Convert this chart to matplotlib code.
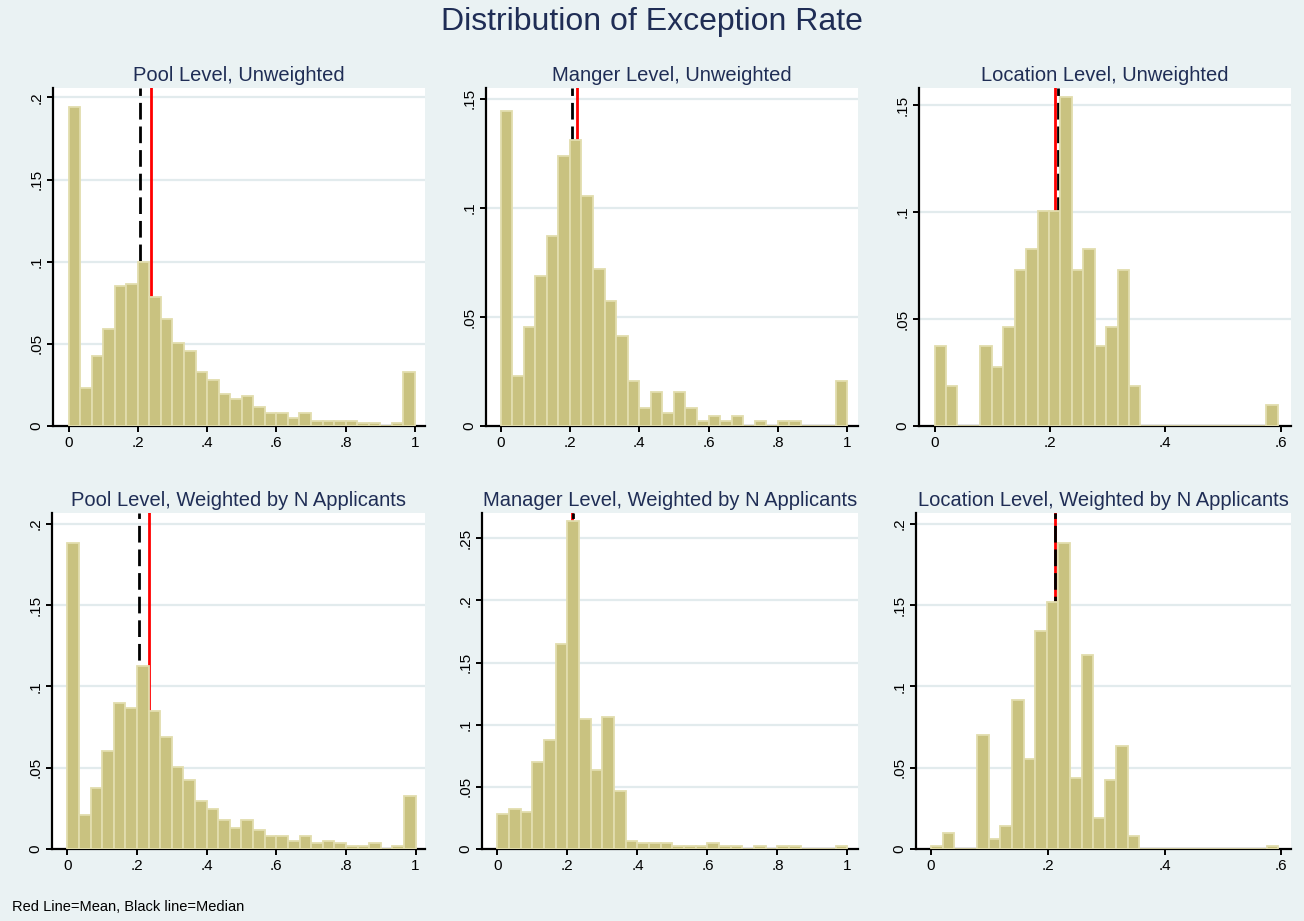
import numpy as np
import matplotlib.pyplot as plt

plt.rcParams['font.family'] = ['Liberation Sans', 'DejaVu Sans']

# fraction of observations in each of 30 equal-width bins
pool_unw = [0.194, 0.0229, 0.0424, 0.0588, 0.0849, 0.0867, 0.0996, 0.0784, 0.0653, 0.0504,
            0.0459, 0.0327, 0.028, 0.0196, 0.0163, 0.018, 0.0114, 0.0082, 0.0082, 0.0047,
            0.0082, 0.0033, 0.0033, 0.0033, 0.0033, 0.0016, 0.0016, 0.0, 0.0016, 0.0327]
mgr_unw = [0.1445, 0.023, 0.0452, 0.0686, 0.087, 0.1238, 0.131, 0.1054, 0.072, 0.0575,
           0.0414, 0.0206, 0.0083, 0.0156, 0.006, 0.0156, 0.0083, 0.0025, 0.0047, 0.0025,
           0.0047, 0.0, 0.0025, 0.0, 0.0025, 0.0025, 0.0, 0.0, 0.0, 0.0206]
loc_unw = [0.0375, 0.0187, 0.0, 0.0, 0.0375, 0.0275, 0.0463, 0.0727, 0.0827, 0.1003,
           0.1003, 0.154, 0.0727, 0.0827, 0.0375, 0.0463, 0.0727, 0.0187, 0.0, 0.0,
           0.0, 0.0, 0.0, 0.0, 0.0, 0.0, 0.0, 0.0, 0.0, 0.0097]
pool_w = [0.188, 0.0212, 0.0376, 0.0604, 0.0898, 0.0865, 0.1127, 0.0847, 0.0686, 0.0506,
          0.0424, 0.0294, 0.0245, 0.018, 0.0131, 0.018, 0.0114, 0.0082, 0.0082, 0.0049,
          0.0082, 0.0037, 0.0049, 0.0037, 0.0018, 0.0018, 0.0037, 0.0, 0.0018, 0.0327]
mgr_w = [0.028, 0.032, 0.030, 0.070, 0.0875, 0.1647, 0.2637, 0.1047, 0.0638, 0.1065,
         0.0466, 0.0063, 0.0048, 0.0048, 0.0048, 0.0021, 0.0021, 0.0021, 0.0048, 0.0021,
         0.0021, 0.0, 0.0021, 0.0, 0.0021, 0.0021, 0.0, 0.0, 0.0, 0.0021]
loc_w = [0.0016, 0.0096, 0.0, 0.0, 0.070, 0.0063, 0.0143, 0.0914, 0.0554, 0.1338,
         0.1518, 0.1881, 0.0437, 0.1192, 0.0192, 0.0423, 0.0636, 0.008, 0.0, 0.0,
         0.0, 0.0, 0.0, 0.0, 0.0, 0.0, 0.0, 0.0, 0.0, 0.0016]

titles = ["Pool Level, Unweighted", "Manger Level, Unweighted", "Location Level, Unweighted",
          "Pool Level, Weighted by N Applicants", "Manager Level, Weighted by N Applicants",
          "Location Level, Weighted by N Applicants"]
heights = [pool_unw, mgr_unw, loc_unw, pool_w, mgr_w, loc_w]
x_max = [1.0, 1.0, 0.595, 1.0, 1.0, 0.595]
means = [0.2365, 0.221, 0.2096, 0.2356, 0.2145, 0.2126]
medians = [0.207, 0.205, 0.2142, 0.206, 0.2165, 0.2126]

xt_full = [0, 0.2, 0.4, 0.6, 0.8, 1]
xl_full = ["0", ".2", ".4", ".6", ".8", "1"]
xt_loc = [0, 0.2, 0.4, 0.6]
xl_loc = ["0", ".2", ".4", ".6"]
yt = [[0, .05, .1, .15, .2], [0, .05, .1, .15], [0, .05, .1, .15],
      [0, .05, .1, .15, .2], [0, .05, .1, .15, .2, .25], [0, .05, .1, .15, .2]]
ylab = {0: "0", .05: ".05", .1: ".1", .15: ".15", .2: ".2", .25: ".25"}

# axes boxes in pixels: left, top, right, bottom
W, H = 1304, 921
boxes = [(53, 88, 425, 426), (486, 88, 858, 426), (919, 88, 1291, 426),
         (52, 513, 425, 849), (482, 513, 858, 849), (916, 513, 1291, 849)]
xlims = [(-0.045, 1.029), (-0.042, 1.031), (-0.027, 0.618),
         (-0.044, 1.027), (-0.044, 1.03), (-0.0257, 0.6166)]
ylims = [0.2057, 0.155, 0.158, 0.2066, 0.2704, 0.2066]

bg = '#EAF2F3'
grid_c = '#E2EBED'
bar_c = '#C9C280'
bar_edge = '#E2DDAE'
navy = '#1F2D55'

fig = plt.figure(figsize=(W / 100, H / 100), dpi=100, facecolor=bg)
fig.text(0.5, 1 - 22 / H, "Distribution of Exception Rate", ha='center', va='center',
         fontsize=23, color=navy)

for i in range(6):
    l, t, r, b = boxes[i]
    ax = fig.add_axes([l / W, 1 - b / H, (r - l) / W, (b - t) / H])
    ax.set_facecolor('white')

    edges = np.linspace(0, x_max[i], 31)
    w = edges[1] - edges[0]
    ax.bar(edges[:-1], heights[i], width=w, align='edge', color=bar_c,
           edgecolor=bar_edge, linewidth=1.3, zorder=3)

    # mean and median lines sit behind the bars
    ax.axvline(means[i], color='red', lw=2, zorder=2)
    ax.axvline(medians[i], color='black', lw=2, dashes=(6, 2.5), zorder=2.1)

    ax.set_xlim(*xlims[i])
    ax.set_ylim(0, ylims[i])
    if x_max[i] < 1:
        ax.set_xticks(xt_loc, xl_loc)
    else:
        ax.set_xticks(xt_full, xl_full)
    ax.set_yticks(yt[i], [ylab[v] for v in yt[i]])
    for lab in ax.get_yticklabels():
        lab.set_rotation(90)
        lab.set_va('center')
    for v in yt[i][1:]:
        ax.axhline(v, color=grid_c, lw=1.6, zorder=0)

    for s in ['top', 'right']:
        ax.spines[s].set_visible(False)
    for s in ['left', 'bottom']:
        ax.spines[s].set_linewidth(1.6)
        ax.spines[s].set_color('black')
    ax.tick_params(direction='out', length=4, width=1.4, labelsize=11, pad=3)
    ax.set_title(titles[i], fontsize=14.5, color=navy, pad=5)

fig.text(12 / W, 1 - 907 / H, "Red Line=Mean, Black line=Median", ha='left', va='center',
         fontsize=10.5, color='black')

fig.savefig('out.png', dpi=100, facecolor=bg)
